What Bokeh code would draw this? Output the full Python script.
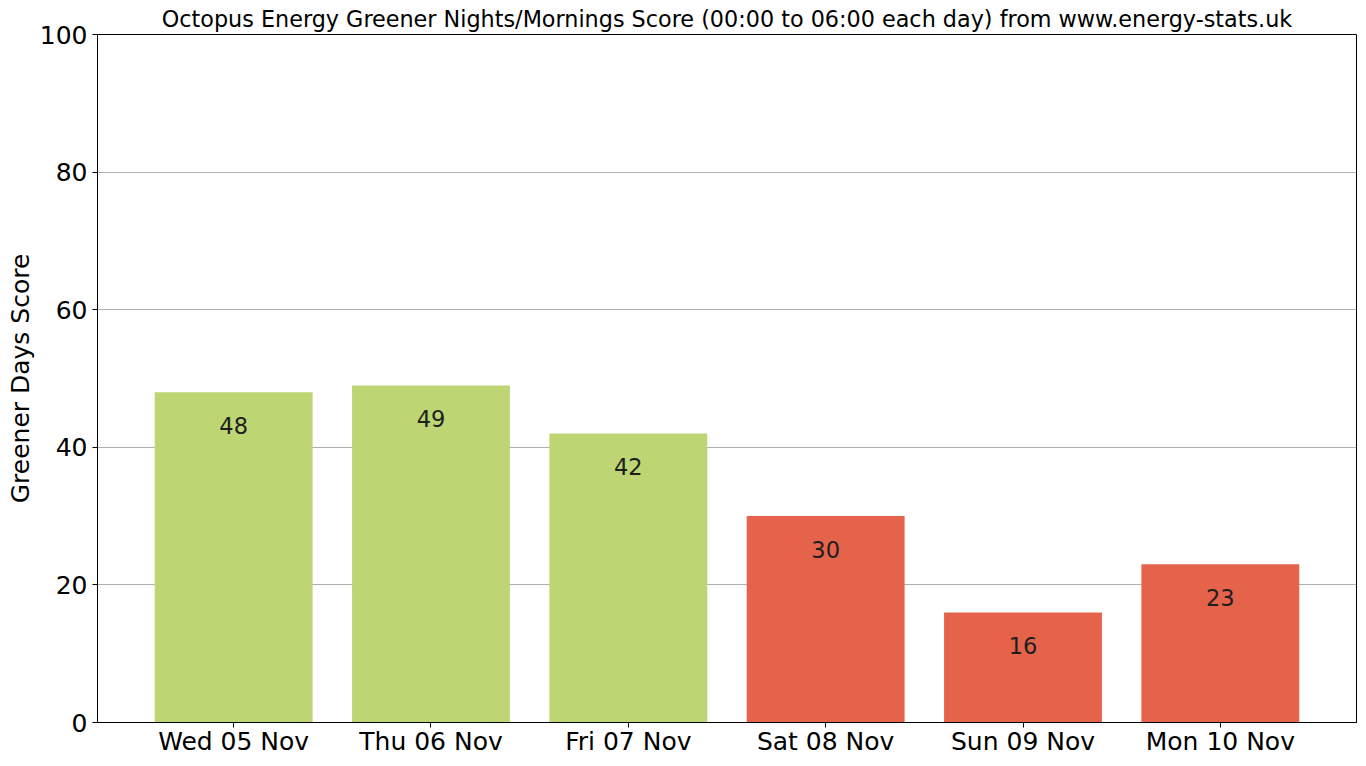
from bokeh.plotting import figure
from bokeh.models import ColumnDataSource, Range1d, FixedTicker
from bokeh.core.properties import value
from bokeh.embed import file_html
from bokeh.resources import INLINE

days = ["Wed 05 Nov", "Thu 06 Nov", "Fri 07 Nov", "Sat 08 Nov", "Sun 09 Nov", "Mon 10 Nov"]
scores = [48, 49, 42, 30, 16, 23]
y_ticks = [0, 20, 40, 60, 80, 100]

GREEN = "#bdd573"
RED = "#e5634a"
colors = [GREEN if s >= 40 else RED for s in scores]
xs = list(range(len(days)))

src = ColumnDataSource(dict(x=xs, top=scores, color=colors,
                            label=[str(s) for s in scores]))

FONT = "DejaVu Sans"

p = figure(width=1358, height=758, output_backend="svg", toolbar_location=None,
           x_range=Range1d(-0.69, 5.69), y_range=Range1d(0, 100),
           min_border_left=97, min_border_right=2, min_border_top=34, min_border_bottom=36)
p.background_fill_color = "white"
p.border_fill_color = "white"
p.outline_line_color = "black"
p.outline_line_width = 1
p.outline_line_alpha = 1

p.vbar(x="x", top="top", bottom=0, width=0.8, color="color", line_color=None, source=src)
p.text(x="x", y="top", text="label", source=src, y_offset=33,
       text_align="center", text_baseline="middle",
       text_font=value(FONT), text_font_size="22.5px", text_color="#1e1e1e")

p.title.text = "Octopus Energy Greener Nights/Mornings Score (00:00 to 06:00 each day) from www.energy-stats.uk"
p.title.align = "center"
p.title.text_font = FONT
p.title.text_font_size = "22.3px"
p.title.text_font_style = "normal"
p.title.text_color = "black"
p.title.offset = 0
p.title.standoff = 5

p.xaxis.ticker = FixedTicker(ticks=xs)
p.xaxis.major_label_overrides = {i: d for i, d in zip(xs, days)}
p.yaxis.ticker = FixedTicker(ticks=y_ticks)
p.yaxis.axis_label = "Greener Days Score"

for ax in (p.xaxis, p.yaxis):
    ax.major_label_text_font = FONT
    ax.major_label_text_font_size = "25px"
    ax.major_label_text_color = "black"
    ax.axis_line_color = "black"
    ax.major_tick_line_color = "black"
    ax.major_tick_out = 5
    ax.major_tick_in = 0
    ax.minor_tick_line_color = None
    ax.axis_label_text_font = FONT
    ax.axis_label_text_font_size = "25px"
    ax.axis_label_text_font_style = "normal"
    ax.axis_label_text_color = "black"

p.yaxis.axis_label_standoff = 2
p.xaxis.major_label_standoff = -1
p.yaxis.major_label_standoff = 5

p.xgrid.grid_line_color = None
p.ygrid.grid_line_color = "#b0b0b0"
p.ygrid.grid_line_width = 1

open("out.html", "w").write(file_html(p, INLINE))
